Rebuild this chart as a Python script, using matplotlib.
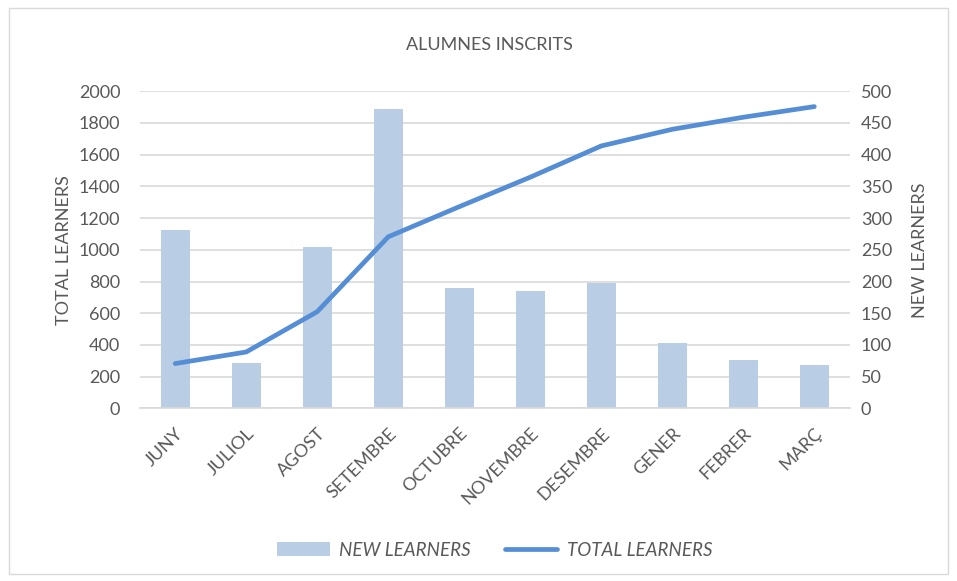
import numpy as np
import matplotlib.pyplot as plt
from matplotlib.patches import Rectangle

months = ['JUNY', 'JULIOL', 'AGOST', 'SETEMBRE', 'OCTUBRE', 'NOVEMBRE',
          'DESEMBRE', 'GENER', 'FEBRER', 'MARÇ']
new_learners = [282, 71, 255, 472, 190, 185, 197, 103, 76, 68]
total_learners = [283, 356, 610, 1082, 1272, 1458, 1655, 1760, 1836, 1903]

BAR_COLOR = '#B9CDE5'
LINE_COLOR = '#558ED5'
TEXT_COLOR = '#595959'
GRID_COLOR = '#D9D9D9'

plt.rcParams['font.family'] = ['Lato', 'DejaVu Sans']

fig = plt.figure(figsize=(9.57, 5.81), dpi=100)
fig.patches.append(Rectangle((0.009, 0.012), 0.982, 0.975, transform=fig.transFigure,
                             fill=False, edgecolor='#D9D9D9', linewidth=1))

ax = fig.add_axes([0.146, 0.297, 0.742, 0.546])
ax2 = ax.twinx()

x = np.arange(len(months))
ax2.bar(x, new_learners, width=0.41, color=BAR_COLOR, label='NEW LEARNERS', zorder=2)
ax.plot(x, total_learners, color=LINE_COLOR, linewidth=3.4, solid_capstyle='round',
        solid_joinstyle='round', label='TOTAL LEARNERS', zorder=3)

# line above the bars
ax.set_zorder(ax2.get_zorder() + 1)
ax.patch.set_visible(False)

ax.set_xlim(-0.5, len(months) - 0.5)
ax.set_ylim(0, 2000)
ax2.set_ylim(0, 500)
ax.set_yticks(np.arange(0, 2001, 200))
ax2.set_yticks(np.arange(0, 501, 50))

ax2.grid(axis='y', color=GRID_COLOR, linewidth=1.2, zorder=0)
ax2.set_axisbelow(True)

for a in (ax, ax2):
    for s in a.spines.values():
        s.set_visible(False)
    a.tick_params(length=0, colors=TEXT_COLOR, labelsize=13)
ax.spines['bottom'].set_visible(True)
ax.spines['bottom'].set_color(GRID_COLOR)
ax.spines['bottom'].set_linewidth(1.2)

ax.tick_params(axis='y', pad=14)
ax2.tick_params(axis='y', pad=8)
ax.set_xticks(x)
ax.set_xticklabels(months, rotation=45, ha='right', rotation_mode='anchor')
ax.tick_params(axis='x', pad=12)

ax.set_ylabel('TOTAL LEARNERS', color=TEXT_COLOR, fontsize=13, labelpad=5)
ax2.set_ylabel('NEW LEARNERS', color=TEXT_COLOR, fontsize=13, labelpad=14)
fig.text(0.511, 0.922, 'ALUMNES INSCRITS', color=TEXT_COLOR, fontsize=13, ha='center', va='center')

h1, l1 = ax2.get_legend_handles_labels()
h2, l2 = ax.get_legend_handles_labels()
leg = fig.legend(h1 + h2, l1 + l2, loc='center', bbox_to_anchor=(0.517, 0.053), ncol=2,
                 frameon=False, handlelength=2.8, handleheight=0.75,
                 columnspacing=1.8, handletextpad=0.5,
                 prop={'style': 'italic', 'size': 13.5})
for t in leg.get_texts():
    t.set_color(TEXT_COLOR)

fig.savefig('out.png', dpi=100)
